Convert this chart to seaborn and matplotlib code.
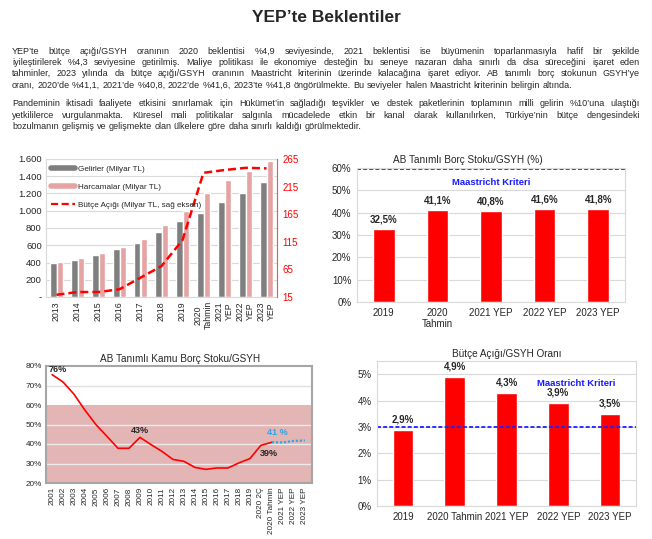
import numpy as np
import pandas as pd
import matplotlib
matplotlib.use("Agg")
import matplotlib.pyplot as plt
import seaborn as sns
from matplotlib.lines import Line2D

# ---------------- data ----------------
yillar = ["2013", "2014", "2015", "2016", "2017", "2018", "2019",
          "2020\nTahmin", "2021\nYEP", "2022\nYEP", "2023\nYEP"]
gelirler = [391, 434, 484, 554, 631, 759, 876, 976, 1104, 1205, 1329]
harcamalar = [411, 453, 511, 585, 678, 833, 1000, 1209, 1352, 1457, 1577]
butce_acigi = [19, 24, 24, 29, 50, 71, 118, 240, 245, 249, 248]
sol_eksen = [0, 200, 400, 600, 800, 1000, 1200, 1400, 1600]
sol_eksen_etiket = ["-", "200", "400", "600", "800", "1.000", "1.200", "1.400", "1.600"]
sag_eksen = [15, 65, 115, 165, 215, 265]

borc_kat = ["2019", "2020\nTahmin", "2021 YEP", "2022 YEP", "2023 YEP"]
borc_deger = [32.5, 41.1, 40.8, 41.6, 41.8]
borc_kriter = 59.5

kamu_kat = ["2001", "2002", "2003", "2004", "2005", "2006", "2007", "2008", "2009",
            "2010", "2011", "2012", "2013", "2014", "2015", "2016", "2017", "2018",
            "2019", "2020 2Ç", "2020 Tahmin", "2021 YEP", "2022 YEP", "2023 YEP"]
kamu_gercek = [75.6, 71.8, 65.5, 57.3, 49.9, 43.9, 37.8, 37.8, 43.4, 39.7, 36.2,
               32.1, 31.1, 28.0, 27.0, 27.7, 27.7, 30.3, 32.5, 39.3, 40.9]
kamu_tahmin = [40.9, 40.8, 41.6, 41.8]

acik_kat = ["2019", "2020 Tahmin", "2021 YEP", "2022 YEP", "2023 YEP"]
acik_deger = [2.9, 4.9, 4.3, 3.9, 3.5]
acik_kriter = 3.0

baslik = "YEP\u2019te Beklentiler"
paragraf1 = [
    "YEP\u2019te bütçe açığı/GSYH oranının 2020 beklentisi %4,9 seviyesinde, 2021 beklentisi ise büyümenin toparlanmasıyla hafif bir şekilde",
    "iyileştirilerek %4,3 seviyesine getirilmiş. Maliye politikası ile ekonomiye desteğin bu seneye nazaran daha sınırlı da olsa süreceğini işaret eden",
    "tahminler, 2023 yılında da bütçe açığı/GSYH oranının Maastricht kriterinin üzerinde kalacağına işaret ediyor. AB tanımlı borç stokunun GSYH\u2019ye",
    "oranı, 2020\u2019de %41,1, 2021\u2019de %40,8, 2022\u2019de %41,6, 2023\u2019te %41,8 öngörülmekte. Bu seviyeler halen Maastricht kriterinin belirgin altında.",
]
paragraf2 = [
    "Pandeminin iktisadi faaliyete etkisini sınırlamak için Hükümet\u2019in sağladığı teşvikler ve destek paketlerinin toplamının milli gelirin %10\u2019una ulaştığı",
    "yetkililerce vurgulanmakta. Küresel mali politikalar salgınla mücadelede etkin bir kanal olarak kullanılırken, Türkiye\u2019nin bütçe dengesindeki",
    "bozulmanın  gelişmiş ve gelişmekte olan ülkelere göre daha sınırlı kaldığı görülmektedir.",
]

# ---------------- style ----------------
sns.set_style("white")
plt.rcParams["font.family"] = ["Liberation Sans", "DejaVu Sans"]

W, H = 652, 539
fig = plt.figure(figsize=(W / 100, H / 100), dpi=100)


def rect(l, t, r, b):
    return [l / W, 1 - b / H, (r - l) / W, (b - t) / H]


def pct(v):
    return f"{v:.1f}".replace(".", ",") + "%"


# ---------------- header text ----------------
fig.text(0.5, 1 - 18 / H, baslik, ha="center", va="center", fontsize=12.5, weight="bold")

renderer = fig.canvas.get_renderer()
FS = 6.45


def measure(s):
    t = fig.text(0, 0, s, fontsize=FS)
    w = t.get_window_extent(renderer).width
    t.remove()
    return w


space_w = measure("a a") - measure("aa")


def draw_line(line, y, x0=12, x1=640, justify=True):
    words = line.split()
    widths = [measure(w) for w in words]
    if justify and len(words) > 1:
        gap = ((x1 - x0) - sum(widths)) / (len(words) - 1)
    else:
        gap = space_w
    x = x0
    for w, ww in zip(words, widths):
        fig.text(x / W, 1 - y / H, w, fontsize=FS, va="center", ha="left")
        x += ww + gap


ys1 = [51, 62.3, 73.6, 85]
for i, (ln, y) in enumerate(zip(paragraf1, ys1)):
    draw_line(ln, y, justify=(i < len(paragraf1) - 1))
ys2 = [104, 115.3, 126.6]
for i, (ln, y) in enumerate(zip(paragraf2, ys2)):
    draw_line(ln, y, justify=(i < len(paragraf2) - 1))

GRID = "#d9d9d9"

# ---------------- chart 1 ----------------
ax1 = fig.add_axes(rect(46, 159, 277, 297))
df1 = pd.DataFrame({
    "Yıl": yillar * 2,
    "Seri": ["Gelirler (Milyar TL)"] * len(yillar) + ["Harcamalar (Milyar TL)"] * len(yillar),
    "Değer": gelirler + harcamalar,
})
sns.barplot(data=df1, x="Yıl", y="Değer", hue="Seri", palette=["#7f7f7f", "#e6a3a3"],
            width=0.6, saturation=1, ax=ax1, legend=False, gap=0)
ax1.set_ylim(0, 1600)
ax1.set_yticks(sol_eksen)
ax1.set_yticklabels(sol_eksen_etiket)
ax1.set_xlabel("")
ax1.set_ylabel("")
ax1.set_axisbelow(True)
ax1.yaxis.grid(True, color=GRID, lw=0.8)
ax1.tick_params(axis="both", length=0, labelsize=6.8, pad=3)
ax1.tick_params(axis="x", rotation=90, labelsize=6.3)
for lab in ax1.get_xticklabels():
    lab.set_va("top")
    lab.set_multialignment("center")
for s in ax1.spines.values():
    s.set_color(GRID)
ax2 = ax1.twinx()
sns.lineplot(x=np.arange(len(yillar)), y=butce_acigi, ax=ax2, color="#ff0000", lw=1.8)
ax2.lines[0].set_dashes([3.2, 1.6])
ax2.set_ylim(15, 265)
ax2.set_yticks(sag_eksen)
ax2.tick_params(axis="y", length=0, labelsize=7, colors="#ff0000", pad=4)
for s in ["top", "left", "bottom"]:
    ax2.spines[s].set_visible(False)
ax2.spines["right"].set_color("#ff5050")
ax1.set_xlim(-0.5, len(yillar) - 0.5)
handles = [Line2D([], [], color="#7f7f7f", lw=4),
           Line2D([], [], color="#e6a3a3", lw=4),
           Line2D([], [], color="#ff0000", lw=1.6, dashes=[3.2, 1.6])]
labels = ["Gelirler (Milyar TL)", "Harcamalar (Milyar TL)",
          "Bütçe Açığı (Milyar TL, sağ eksen)"]
ax2.legend(handles, labels, loc="upper left", bbox_to_anchor=(0.0, 0.99), frameon=False,
           fontsize=5.9, handlelength=2.9, labelspacing=1.25, handletextpad=0.4,
           borderaxespad=0.2)

# ---------------- chart 2 ----------------
ax3 = fig.add_axes(rect(357, 168, 625, 302))
df2 = pd.DataFrame({"Kategori": borc_kat, "Değer": borc_deger})
sns.barplot(data=df2, x="Kategori", y="Değer", color="#ff0000", saturation=1, width=0.4, ax=ax3)
ax3.axhline(borc_kriter, color="#2020ff", ls=(0, (2.2, 1.2)), lw=1.3)
ax3.text(2, 53.5, "Maastricht Kriteri", color="#1a1aff", weight="bold", fontsize=6.8,
         ha="center", va="center")
for i, v in enumerate(borc_deger):
    ax3.text(i, v + 2.0, pct(v), ha="center", va="bottom", fontsize=7, weight="bold")
ax3.set_ylim(0, 60)
ax3.set_xlim(-0.5, 4.5)
ax3.set_yticks(range(0, 61, 10))
ax3.set_yticklabels([f"{v}%" for v in range(0, 61, 10)])
ax3.set_xlabel("")
ax3.set_ylabel("")
ax3.set_axisbelow(True)
ax3.yaxis.grid(True, color=GRID, lw=0.8)
ax3.tick_params(axis="both", length=0, labelsize=7, pad=4)
for s in ax3.spines.values():
    s.set_color(GRID)
fig.text(468 / W, 1 - 160 / H, "AB Tanımlı Borç Stoku/GSYH (%)", ha="center", va="center",
         fontsize=7.2)

# ---------------- chart 3 ----------------
ax4 = fig.add_axes(rect(46, 366, 312, 483))
ax4.axhspan(20, 60, color="#e3b5b5", zorder=0.5, lw=0)
ax4.set_axisbelow(False)
for g in [30, 40, 50, 70]:
    ax4.axhline(g, color="#ececec" if g != 70 else "#e0e0e0", lw=1.0, zorder=0.8)
n_g = len(kamu_gercek)
sns.lineplot(x=np.arange(n_g), y=kamu_gercek, ax=ax4, color="#ff0000", lw=1.2, zorder=3)
sns.lineplot(x=np.arange(n_g - 1, n_g - 1 + len(kamu_tahmin)), y=kamu_tahmin, ax=ax4,
             color="#2aa7e6", lw=1.6, zorder=3)
ax4.lines[-1].set_dashes([1.0, 0.8])
ax4.set_ylim(20, 80)
ax4.set_xlim(-0.55, len(kamu_kat) - 0.35)
ax4.set_yticks(range(20, 81, 10))
ax4.set_yticklabels([f"{v}%" for v in range(20, 81, 10)])
ax4.set_xticks(range(len(kamu_kat)))
ax4.set_xticklabels(kamu_kat, rotation=90)
ax4.tick_params(axis="both", length=0, labelsize=5.9, pad=3)
ax4.set_xlabel("")
ax4.set_ylabel("")
for s in ax4.spines.values():
    s.set_color("#a6a6a6")
    s.set_linewidth(1.5)
ax4.text(-0.35, 78.4, "76%", fontsize=6.5, weight="bold", ha="left", va="center")
ax4.text(8, 46.7, "43%", fontsize=6.5, weight="bold", ha="center", va="center")
ax4.text(19.7, 35.0, "39%", fontsize=6.5, weight="bold", ha="center", va="center")
ax4.text(20.5, 45.8, "41 %", fontsize=6.5, weight="bold", ha="center", va="center",
         color="#2aa7e6")
fig.text(180 / W, 1 - 359 / H, "AB Tanımlı Kamu Borç Stoku/GSYH", ha="center", va="center",
         fontsize=7.2)

# ---------------- chart 4 ----------------
ax5 = fig.add_axes(rect(377, 361, 636, 506))
df4 = pd.DataFrame({"Kategori": acik_kat, "Değer": acik_deger})
sns.barplot(data=df4, x="Kategori", y="Değer", color="#ff0000", saturation=1, width=0.4, ax=ax5)
ax5.axhline(acik_kriter, color="#2020ff", ls=(0, (2.2, 1.2)), lw=1.3)
ax5.text(3.35, 4.63, "Maastricht Kriteri", color="#1a1aff", weight="bold", fontsize=6.8,
         ha="center", va="center")
for i, v in enumerate(acik_deger):
    ax5.text(i, v + 0.2, pct(v), ha="center", va="bottom", fontsize=7, weight="bold")
ax5.set_ylim(0, 5.5)
ax5.set_xlim(-0.5, 4.5)
ax5.set_yticks(range(0, 6))
ax5.set_yticklabels([f"{v}%" for v in range(0, 6)])
ax5.set_xlabel("")
ax5.set_ylabel("")
ax5.set_axisbelow(True)
ax5.yaxis.grid(True, color=GRID, lw=0.8)
ax5.tick_params(axis="both", length=0, labelsize=7, pad=4)
for s in ax5.spines.values():
    s.set_color(GRID)
fig.text(507 / W, 1 - 354 / H, "Bütçe Açığı/GSYH Oranı", ha="center", va="center",
         fontsize=7.2)

fig.savefig("out.png", dpi=100)
